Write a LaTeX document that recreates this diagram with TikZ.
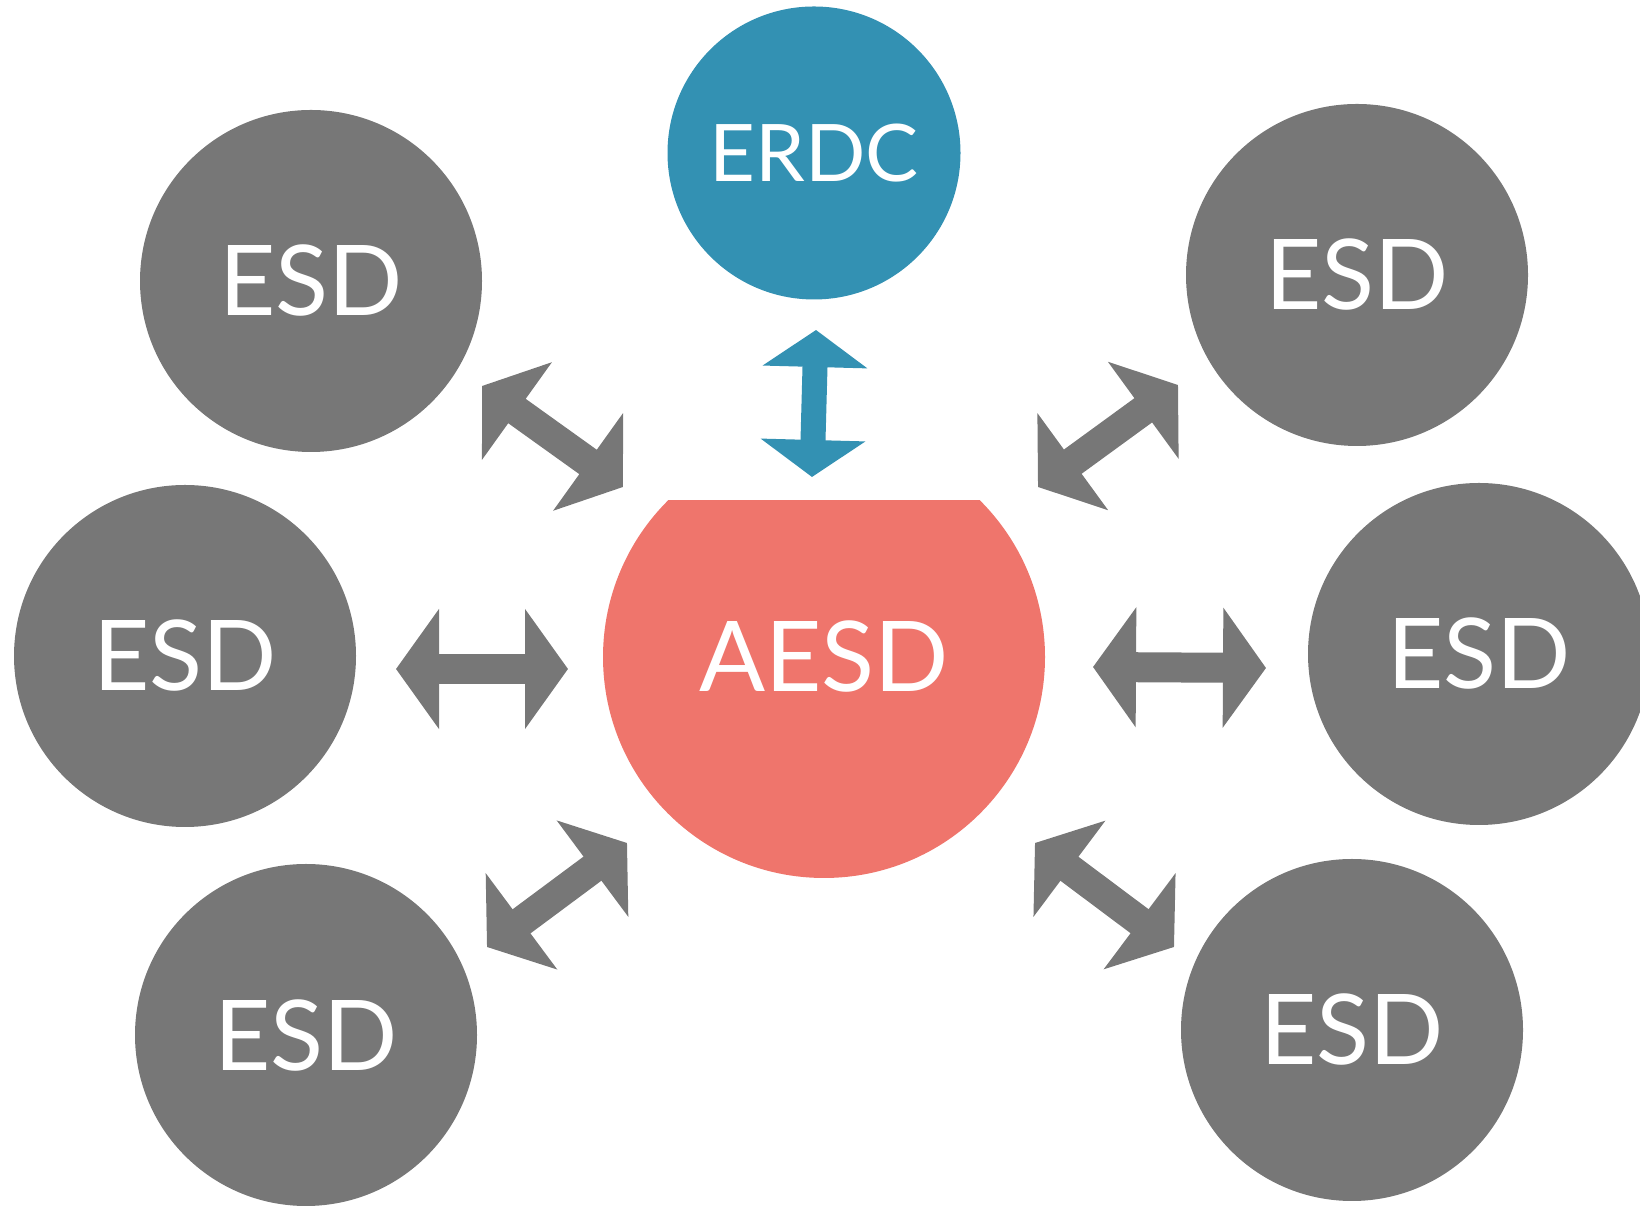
\documentclass[tikz,border=0pt]{standalone}
\usepackage{fontspec}
\setmainfont{Lato}
\usetikzlibrary{arrows.meta}
\definecolor{esdgray}{RGB}{119,119,119}
\definecolor{erdcblue}{RGB}{51,145,179}
\definecolor{aesdred}{RGB}{239,117,108}
\tikzset{
  esd/.style={circle, fill=esdgray, text=white, inner sep=0pt, minimum size=3.42cm, font=\fontsize{27.8}{30}\selectfont},
  link/.style={<->, esdgray, line width=0.30cm},
}

\begin{document}
\begin{tikzpicture}[line cap=round, line join=miter, >={Triangle[length=0.43cm,width=1.18cm]}]
\useasboundingbox (0,0) rectangle (16.40,12.07);
\clip (0,0) rectangle (16.40,12.07);

% centre, cut flat at the top
\begin{scope}
\clip (0,0) rectangle (16.40,7.06);
\node[esd, fill=aesdred, minimum size=4.42cm] (aesd) at (8.24,5.50) {AESD};
\end{scope}

\node[esd, fill=erdcblue, minimum size=2.93cm, font=\fontsize{22.6}{25}\selectfont] (erdc) at (8.14,10.54) {ERDC};

\node[esd] (esdtl) at (3.11,9.26) {ESD};
\node[esd] (esdtr) at (13.57,9.32) {ESD};
\node[esd] (esdml) at (1.85,5.51) {ESD};
\node[esd] (esdmr) at (14.79,5.53) {ESD};
\node[esd] (esdbl) at (3.06,1.72) {ESD};
\node[esd] (esdbr) at (13.52,1.77) {ESD};

%---------------------------------------------------------------------------------------------------
\coordinate (erdc1) at (8.12,7.30);
\coordinate (erdc2) at (8.16,8.77);
\draw[link, erdcblue, line width=0.25cm, {Triangle[length=0.37cm,width=1.03cm]}-{Triangle[length=0.37cm,width=1.03cm]}] (erdc1) -- (erdc2);

\coordinate (tl1) at (4.82,8.21);
\coordinate (tl2) at (6.23,7.20);
\draw[link] (tl1) -- (tl2);

\coordinate (tr1) at (10.38,7.20);
\coordinate (tr2) at (11.78,8.22);
\draw[link] (tr1) -- (tr2);

\coordinate (ml1) at (3.96,5.38);
\coordinate (ml2) at (5.68,5.38);
\draw[link] (ml1) -- (ml2);

\coordinate (mr1) at (10.93,5.40);
\coordinate (mr2) at (12.66,5.39);
\draw[link] (mr1) -- (mr2);

\coordinate (bl1) at (4.87,2.60);
\coordinate (bl2) at (6.27,3.64);
\draw[link] (bl1) -- (bl2);

\coordinate (br1) at (10.35,3.64);
\coordinate (br2) at (11.74,2.60);
\draw[link] (br1) -- (br2);

\end{tikzpicture}
\end{document}
